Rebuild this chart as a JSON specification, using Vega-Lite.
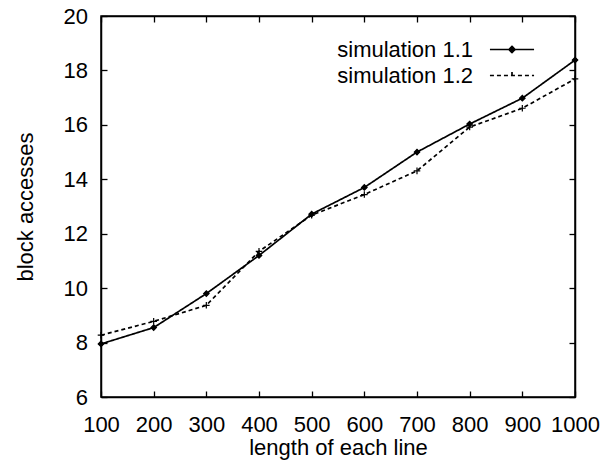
{
  "$schema": "https://vega.github.io/schema/vega-lite/v6.json",
  "width": 474,
  "height": 381,
  "autosize": "none",
  "padding": {"left": 101, "top": 16, "right": 30, "bottom": 66},
  "background": "white",
  "config": {
    "font": "Liberation Sans",
    "view": {"stroke": "black", "strokeWidth": 1.5},
    "axis": {
      "domainColor": "black", "domainWidth": 1.5,
      "tickColor": "black", "tickWidth": 1.3, "tickSize": -6,
      "labelFont": "Liberation Sans", "labelFontSize": 22, "labelColor": "black",
      "titleFont": "Liberation Sans", "titleFontSize": 22, "titleColor": "black", "titleFontWeight": "normal",
      "grid": false, "labelFlush": false, "labelOverlap": false, "labelBound": false, "format": "d"
    }
  },
  "data": {
    "values": [
      {"len": 100, "acc": 7.95, "series": "simulation 1.1"},
      {"len": 200, "acc": 8.55, "series": "simulation 1.1"},
      {"len": 300, "acc": 9.8, "series": "simulation 1.1"},
      {"len": 400, "acc": 11.2, "series": "simulation 1.1"},
      {"len": 500, "acc": 12.72, "series": "simulation 1.1"},
      {"len": 600, "acc": 13.7, "series": "simulation 1.1"},
      {"len": 700, "acc": 15.0, "series": "simulation 1.1"},
      {"len": 800, "acc": 16.03, "series": "simulation 1.1"},
      {"len": 900, "acc": 16.98, "series": "simulation 1.1"},
      {"len": 1000, "acc": 18.38, "series": "simulation 1.1"},
      {"len": 100, "acc": 8.27, "series": "simulation 1.2"},
      {"len": 200, "acc": 8.78, "series": "simulation 1.2"},
      {"len": 300, "acc": 9.37, "series": "simulation 1.2"},
      {"len": 400, "acc": 11.35, "series": "simulation 1.2"},
      {"len": 500, "acc": 12.68, "series": "simulation 1.2"},
      {"len": 600, "acc": 13.44, "series": "simulation 1.2"},
      {"len": 700, "acc": 14.31, "series": "simulation 1.2"},
      {"len": 800, "acc": 15.92, "series": "simulation 1.2"},
      {"len": 900, "acc": 16.61, "series": "simulation 1.2"},
      {"len": 1000, "acc": 17.69, "series": "simulation 1.2"}
    ]
  },
  "resolve": {"axis": {"x": "independent", "y": "independent"}},
  "layer": [
    {
      "mark": {"type": "line", "color": "black", "strokeWidth": 1.7},
      "encoding": {
        "x": {"field": "len", "type": "quantitative",
          "scale": {"domain": [100, 1000], "nice": false, "zero": false},
          "axis": {"title": "length of each line", "values": [100,200,300,400,500,600,700,800,900,1000],
            "labelPadding": 23, "titleBaseline": "top", "titleY": 40.6}},
        "y": {"field": "acc", "type": "quantitative",
          "scale": {"domain": [6, 20], "nice": false, "zero": false},
          "axis": {"title": "block accesses", "values": [6,8,10,12,14,16,18,20],
            "labelPadding": 19.5, "titleBaseline": "bottom", "titleX": -63.4}},
        "strokeDash": {"field": "series", "type": "nominal",
          "scale": {"domain": ["simulation 1.1", "simulation 1.2"], "range": [[1, 0], [4, 3]]},
          "legend": {
            "title": null,
            "orient": "none",
            "legendX": 399.5,
            "legendY": 22,
            "symbolSize": 441,
            "symbolStrokeWidth": 1.7,
            "symbolStrokeColor": "black",
            "labelFont": "Liberation Sans",
            "labelFontSize": 22,
            "labelColor": "black",
            "labelAlign": "right",
            "labelOffset": -50.5,
            "rowPadding": 3,
            "padding": 0,
            "encode": {
              "symbols": {
                "update": {
                  "shape": {"signal": "datum.value === 'simulation 1.1' ? 'M-2.1,0H2.1M-0.29,0L0,-0.29L0.29,0L0,0.29Z' : 'M-2.1,0H2.1M0,-0.33V0.33'"},
                  "fill": {"value": "black"},
                  "stroke": {"value": "black"}
                }
              }
            }
          }}
      }
    },
    {
      "transform": [{"filter": "datum.series === 'simulation 1.1'"}],
      "mark": {"type": "point", "shape": "diamond", "filled": true, "fill": "black", "stroke": "black", "strokeWidth": 1.2, "opacity": 1, "size": 30},
      "encoding": {
        "x": {"field": "len", "type": "quantitative",
          "axis": {"orient": "top", "labels": false, "title": null, "values": [100,200,300,400,500,600,700,800,900,1000]}},
        "y": {"field": "acc", "type": "quantitative",
          "axis": {"orient": "right", "labels": false, "title": null, "values": [6,8,10,12,14,16,18,20]}}
      }
    },
    {
      "transform": [{"filter": "datum.series === 'simulation 1.2'"}],
      "mark": {"type": "point", "shape": "M-1.2,0H1.2M0,-1.2V1.2", "filled": true, "fill": "black", "stroke": "black", "strokeWidth": 1.2, "opacity": 1, "size": 30},
      "encoding": {
        "x": {"field": "len", "type": "quantitative", "axis": null},
        "y": {"field": "acc", "type": "quantitative", "axis": null}
      }
    }
  ]
}
